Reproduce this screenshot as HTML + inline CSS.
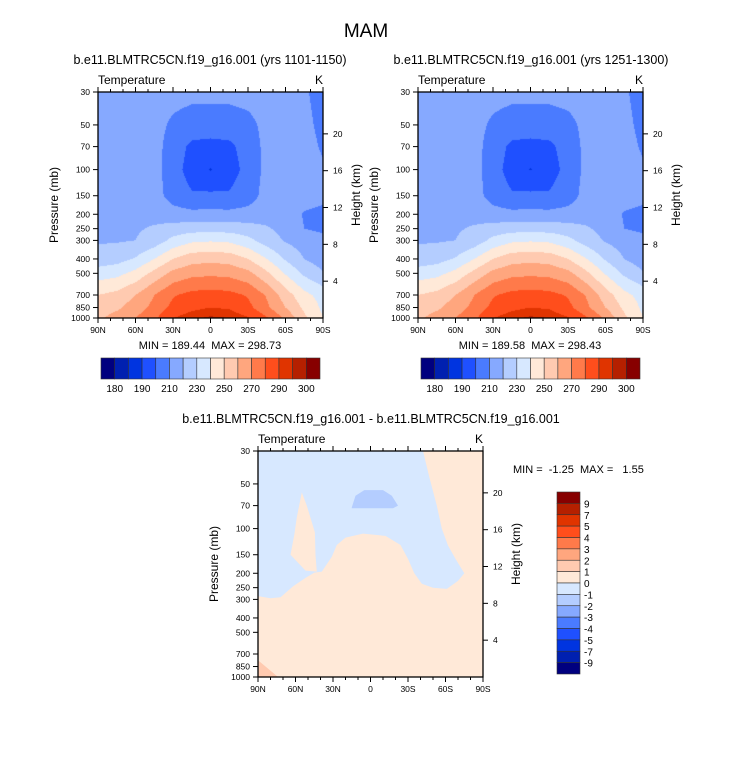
<!DOCTYPE html>
<html><head><meta charset="utf-8"><style>
body{margin:0;background:#fff;}
#root{position:relative;width:733px;height:772px;overflow:hidden;background:#fff;font-family:"Liberation Sans",sans-serif;}
canvas{position:absolute;}
svg{position:absolute;left:0;top:0;}
text{white-space:pre;}
</style></head><body>
<div id="root">
<canvas id="c1" width="225" height="226" style="left:98px;top:92px"></canvas>
<canvas id="c2" width="225" height="226" style="left:418px;top:92px"></canvas>
<svg id="ov" width="733" height="772"></svg>
</div>
<script>
// ---- data ----
const lats = [90,75,60,45,30,15,0,-15,-30,-45,-60,-75,-90];
const pres = [30,50,70,100,150,200,250,300,400,500,700,850,1000];
const tempA = [
[216,216,216,215,214,213,213,213,214,215,214,211,207],
[217,217,216,214,208,205,205,205,207,213,214,212,208],
[218,218,217,214,205,198,197,198,204,213,215,213,209],
[219,219,218,214,204,196,189.5,196,203,213,216,214,211],
[219,219,218,214,206,201,202,201,205,214,217,215,213],
[220,220,219,217,214,213,213,213,214,216,217,209,207],
[219,219,219,221,224,226,226,226,224,221,217,210,208],
[219,219,220,224,233,238,239,238,233,225,219,215,213],
[224,226,231,240,250,256,257,256,250,240,229,220,215],
[235,237,243,253,263,267,268,267,263,252,239,228,221],
[250,253,260,270,279,283,284,283,279,269,255,243,236],
[255,258,265,273,283,288,290,289,283,272,260,248,238],
[258,264,270,278,290,294,296,295,291,281,268,252,240]];
const tempB = [
[216,216,216,215,214,213,213,213,214,215,214,211,207],
[217,217,216,214,208,205,205,205,207,213,214,212,208],
[218,218,217,214,205,198,197,198,204,213,215,213,209],
[219,219,218,214,204,196,189.6,196,203,213,216,214,211],
[219,219,218,214,206,201,202,201,205,214,217,215,213],
[220,220,219,217,214,213,213,213,214,216,217,209,207],
[219,219,219,221,224,226,226,226,224,221,217,210,208],
[219,219,220,224,233,238,239,238,233,225,219,215,213],
[224,226,231,240,250,256,257,256,250,240,229,220,215],
[235,237,243,253,263,267,268,267,263,252,239,228,221],
[250,253,260,270,279,283,284,283,279,269,255,243,236],
[255,258,265,273,283,288,290,289,283,272,260,248,238],
[258,264,270,278,290,294,296,295,291,281,268,252,240]];
const tLevels = [180,185,190,200,210,220,230,240,250,260,270,280,290,295,300];
const tLabels = ["180","190","210","230","250","270","290","300"];
const dLabels = ["9","7","5","4","3","2","1","0","-1","-2","-3","-4","-5","-7","-9"];
const colors = ["#00007f","#0020b0","#0034e0","#1f50ff","#4a7bff","#86a9ff","#b4cdff","#d7e8ff","#ffe9d8","#ffcab0","#ffa67e","#ff7a4a","#ff4e1c","#e03400","#b52000","#870000"];
// diff polygons (lat, pressure)
const negLat = [90,-42,-47,-53,-57,-62,-68,-75,-70,-61,-50,-41,-35,-30,-24,-12,6,20,27,31,39,45,52,62,72,80,90];
const negP   = [30,30,45,70,100,130,160,200,225,255,250,235,200,160,129,112,108,115,129,155,195,198,215,245,290,295,285];
const wedgeLat = [55,51,44.5,44,43,52,64,61,59];
const wedgeP   = [57,70,106,150,195,192,150,110,84];
const blobLat = [15,12,5,-10,-17,-22,-18,15];
const blobP   = [72,60,55,55,60,70,73,73];
const cornerLat = [90,84,74,90];
const cornerP   = [770,850,1000,1000];

const W=225,H=226;
const LP0=Math.log(30), LP1=Math.log(1000);
function yOfP(p){return (Math.log(p)-LP0)/(LP1-LP0)*H;}
function xOfLat(l){return (90-l)/180*W;}
function colorIdx(v){let i=0;while(i<tLevels.length&&v>=tLevels[i])i++;return i;}

function drawField(id,grid){
  const c=document.getElementById(id),ctx=c.getContext('2d');
  for(let py=0;py<H;py++){
    const lp=LP0+(py+0.5)/H*(LP1-LP0);
    let j=0;while(j<pres.length-2&&Math.log(pres[j+1])<lp)j++;
    const fy=Math.min(1,Math.max(0,(lp-Math.log(pres[j]))/(Math.log(pres[j+1])-Math.log(pres[j]))));
    let run=-1,start=0;
    for(let px=0;px<=W;px++){
      let ci=-2;
      if(px<W){
        const lat=90-(px+0.5)/W*180;
        let i=Math.min(11,Math.floor((90-lat)/15));
        const fx=((90-lat)-i*15)/15;
        const v=(grid[j][i]*(1-fx)+grid[j][i+1]*fx)*(1-fy)+(grid[j+1][i]*(1-fx)+grid[j+1][i+1]*fx)*fy;
        ci=colorIdx(v);
      }
      if(ci!==run){
        if(run>=0){ctx.fillStyle=colors[run];ctx.fillRect(start,py,px-start,1);}
        run=ci;start=px;
      }
    }
  }
}
drawField('c1',tempA);drawField('c2',tempB);

const svg=document.getElementById('ov');const NS='http://www.w3.org/2000/svg';
function mk(tag,attrs,parent){const e=document.createElementNS(NS,tag);for(const k in attrs)e.setAttribute(k,attrs[k]);(parent||svg).appendChild(e);return e;}
function txt(s,x,y,size,anchor,name,extra){const e=mk('text',Object.assign({x:x,y:y,'font-size':size,'text-anchor':anchor||'start',fill:'#000'},extra||{}));e.textContent=s;


return e;}

function polyPts(latA,pA,x0,y0){return latA.map((l,k)=>(x0+xOfLat(l)).toFixed(1)+','+(y0+yOfP(pA[k])).toFixed(1)).join(' ');}

// diff panel
const dx0=258,dy0=451;
const bg=mk('rect',{x:dx0,y:dy0,width:W,height:H,fill:colors[8]});


const corner=mk('polygon',{points:polyPts(cornerLat,cornerP,dx0,dy0),fill:colors[9]});


const neg=mk('polygon',{points:polyPts(negLat,negP,dx0,dy0),fill:colors[7]});


const wedge=mk('polygon',{points:polyPts(wedgeLat,wedgeP,dx0,dy0),fill:colors[8]});


const blob=mk('polygon',{points:polyPts(blobLat,blobP,dx0,dy0),fill:colors[6]});



const pTicks=[30,50,70,100,150,200,250,300,400,500,700,850,1000];
const hTicks=[4,8,12,16,20];
const latTicks=[90,60,30,0,-30,-60,-90];
function latLabel(l){return l===0?'0':(Math.abs(l)+(l>0?'N':'S'));}

function axes(x0,y0,prefix){
  const g=mk('g',{});
  
  
  mk('rect',{x:x0,y:y0,width:W,height:H,fill:'none',stroke:'#000','stroke-width':1.3},g);
  pTicks.forEach(p=>{const y=y0+yOfP(p);mk('line',{x1:x0-5,x2:x0,y1:y,y2:y,stroke:'#000'},g);
    txt(String(p),x0-8,y+3,8.5,'end',prefix+'-pressure-tick-label');});
  hTicks.forEach(h=>{const p=1000*Math.exp(-h/7);const y=y0+yOfP(p);mk('line',{x1:x0+W,x2:x0+W+5,y1:y,y2:y,stroke:'#000'},g);
    txt(String(h),x0+W+10,y+3,8.5,'start',prefix+'-height-tick-label');});
  for(let l=90;l>=-90;l-=10){const x=x0+xOfLat(l);const major=(l%30===0);
    mk('line',{x1:x,x2:x,y1:y0+H,y2:y0+H+(major?5:3),stroke:'#000'},g);
    mk('line',{x1:x,x2:x,y1:y0,y2:y0-(major?5:3),stroke:'#000'},g);}
  latTicks.forEach(l=>txt(latLabel(l),x0+xOfLat(l),y0+H+15,8.5,'middle',prefix+'-lat-tick-label'));
  txt('Temperature',x0,y0-8,12,'start',prefix+'-left-string');
  txt('K',x0+W,y0-8,12,'end',prefix+'-units-string');
  txt('Pressure (mb)',0,0,12,'middle',prefix+'-y-axis-title',{transform:`translate(${x0-40},${y0+H/2}) rotate(-90)`});
  txt('Height (km)',0,0,12,'middle',prefix+'-right-axis-title',{transform:`translate(${x0+W+37},${y0+H/2-10}) rotate(-90)`});
}
axes(98,92,'left');axes(418,92,'right');axes(dx0,dy0,'diff');

function hbar(x0,y0,prefix){
  const bw=219/16;
  for(let k=0;k<16;k++){const r=mk('rect',{x:x0+k*bw,y:y0,width:bw,height:21,fill:colors[k],stroke:'#333','stroke-width':0.6});
    
    }
  tLabels.forEach((s,k)=>txt(s,x0+(2*k+1)*bw,y0+34,10,'middle',prefix+'-colorbar-label'));
}
hbar(101,358,'left');hbar(421,358,'right');
// vertical diff bar
(function(){const x0=557,y0=492,bh=182/16;
  for(let k=0;k<16;k++){const r=mk('rect',{x:x0,y:y0+k*bh,width:23,height:bh,fill:colors[15-k],stroke:'#333','stroke-width':0.6});
    
    }
  dLabels.forEach((s,k)=>txt(s,x0+27,y0+(k+1)*bh+4,10,'start','diff-colorbar-label'));
})();

txt('MAM',366,37,19,'middle','figure-title');
txt('b.e11.BLMTRC5CN.f19_g16.001 (yrs 1101-1150)',210,64,12.5,'middle','left-panel-title');
txt('b.e11.BLMTRC5CN.f19_g16.001 (yrs 1251-1300)',531,64,12.5,'middle','right-panel-title');
txt('b.e11.BLMTRC5CN.f19_g16.001 - b.e11.BLMTRC5CN.f19_g16.001',371,423,12.5,'middle','diff-panel-title');
txt('MIN = 189.44  MAX = 298.73',210,349,11,'middle','left-min-max');
txt('MIN = 189.58  MAX = 298.43',530,349,11,'middle','right-min-max');
txt('MIN =  -1.25  MAX =   1.55',513,473,11,'start','diff-min-max');
</script>
</body></html>
